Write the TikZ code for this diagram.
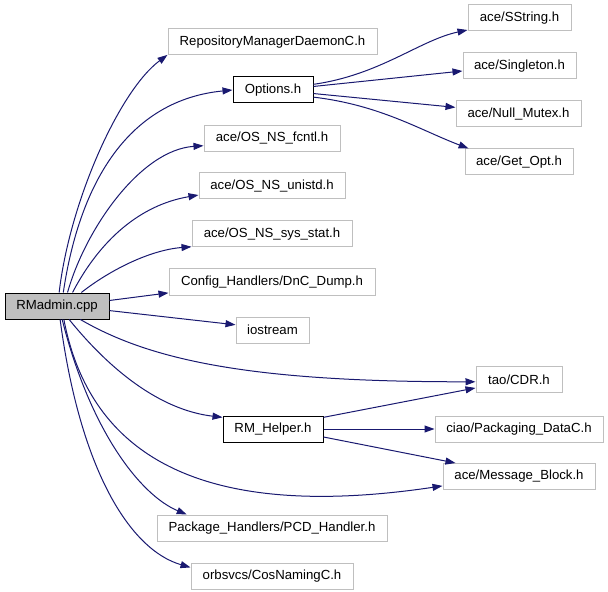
\documentclass[tikz,border=0pt]{standalone}
\usepackage{fontspec}
\setmainfont{Liberation Sans}
\usetikzlibrary{arrows.meta,positioning}
\definecolor{edgeblue}{HTML}{191970}
\definecolor{boxgrey}{HTML}{BFBFBF}

\begin{document}
\begin{tikzpicture}[x=0.75pt, y=-0.75pt,
    every node/.style={font=\fontsize{9.9}{12}\selectfont, inner sep=0pt, minimum height=19.5pt},
    incfile/.style={draw=boxgrey, line width=0.75pt},
    linked/.style={draw=black, line width=0.75pt},
    rootfile/.style={draw=black, fill=boxgrey, line width=0.75pt},
    dep/.style={draw=edgeblue, line width=0.75pt, -{Triangle[length=7.5pt,width=5.25pt]}}]
    \useasboundingbox (0,0) rectangle (608,592);
    % Root file
    \node[rootfile, minimum width=78pt] (rmadmin) at (57,306) {RMadmin.cpp};
    % Direct includes
    \node[incfile, minimum width=156.75pt] (repo) at (272.5,42) {RepositoryManagerDaemonC.h};
    \node[linked, minimum width=60pt] (options) at (273,90) {Options.h};
    \node[incfile, minimum width=102pt] (fcntl) at (272,138.5) {ace/OS\_NS\_fcntl.h};
    \node[incfile, minimum width=109.5pt] (unistd) at (272,186) {ace/OS\_NS\_unistd.h};
    \node[incfile, minimum width=120pt] (sysstat) at (272,234) {ace/OS\_NS\_sys\_stat.h};
    \node[incfile, minimum width=154.5pt] (dncdump) at (272,282) {Config\_Handlers/DnC\_Dump.h};
    \node[incfile, minimum width=54.75pt] (iostream) at (272.5,330) {iostream};
    \node[linked, minimum width=75pt] (rmhelper) at (273,429) {RM\_Helper.h};
    \node[incfile, minimum width=172.5pt] (pcd) at (272,528) {Package\_Handlers/PCD\_Handler.h};
    \node[incfile, minimum width=121.5pt] (cosnaming) at (272,576) {orbsvcs/CosNamingC.h};
    % Second level
    \node[incfile, minimum width=77.25pt] (sstring) at (519.5,18) {ace/SString.h};
    \node[incfile, minimum width=84.75pt] (singleton) at (519.5,66) {ace/Singleton.h};
    \node[incfile, minimum width=93.75pt] (nullmutex) at (518.5,114) {ace/Null\_Mutex.h};
    \node[incfile, minimum width=81pt] (getopt) at (519,162) {ace/Get\_Opt.h};
    \node[incfile, minimum width=64.5pt] (taocdr) at (519,379.5) {tao/CDR.h};
    \node[incfile, minimum width=126pt] (ciaodata) at (519,429) {ciao/Packaging\_DataC.h};
    \node[incfile, minimum width=114pt] (msgblock) at (519,476.5) {ace/Message\_Block.h};
    % Edges from RMadmin.cpp
    \draw[dep] (rmadmin.81) .. controls (70,200) and (120,90) .. (repo.187.6);
    \draw[dep] (rmadmin.65) .. controls (80,180) and (130,100) .. (options.west);
    \draw[dep] (rmadmin.52) .. controls (85,230) and (140,150) .. (fcntl.186.3);
    \draw[dep] (rmadmin.41) .. controls (100,240) and (140,205) .. (unistd.187.8);
    \draw[dep] (rmadmin.29.5) .. controls (110,270) and (150,250) .. (sysstat.189.8);
    \draw[dep] (rmadmin.6.6) -- (dncdump.186.1);
    \draw[dep] (rmadmin.-5.5) -- (iostream.172.2);
    \draw[dep] (rmadmin.-30.6) .. controls (150,360) and (250,382) .. (taocdr.183.3);
    \draw[dep] (rmadmin.-48.5) .. controls (110,370) and (160,410) .. (rmhelper.167.6);
    \draw[dep] (rmadmin.-63.4) .. controls (90,455) and (200,522) .. (msgblock.187.9);
    \draw[dep] (rmadmin.-69) .. controls (90,430) and (140,495) .. (pcd.171);
    \draw[dep] (rmadmin.-77) .. controls (80,470) and (130,550) .. (cosnaming.174.4);
    % Edges from Options.h
    \draw[dep] (options.8.5) .. controls (380,75) and (420,40) .. (sstring.193);
    \draw[dep] (options.5.7) -- (singleton.185);
    \draw[dep] (options.-5.7) -- (nullmutex.174);
    \draw[dep] (options.-10) .. controls (380,105) and (420,130) .. (getopt.165.1);
    % Edges from RM_Helper.h
    \draw[dep] (rmhelper.13.5) -- (taocdr.191.2);
    \draw[dep] (rmhelper.east) -- (ciaodata.west);
    \draw[dep] (rmhelper.-9.1) -- (msgblock.168.6);
\end{tikzpicture}
\end{document}
